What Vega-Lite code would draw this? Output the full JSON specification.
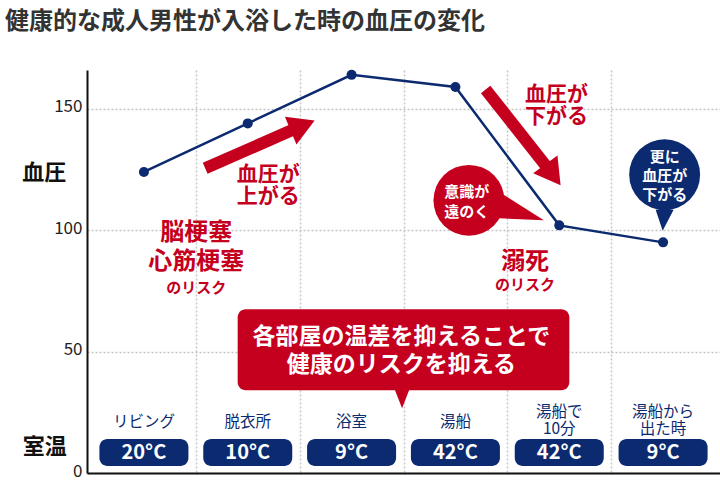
{
  "$schema": "https://vega.github.io/schema/vega-lite/v6.json",
  "width": 633,
  "height": 403,
  "autosize": "none",
  "padding": {"left": 87, "top": 70, "right": 0, "bottom": 7},
  "background": "white",
  "config": {
    "font": "Noto Sans CJK JP",
    "view": {"stroke": null}
  },
  "title": {
    "text": "健康的な成人男性が入浴した時の血圧の変化",
    "anchor": "start",
    "frame": "group",
    "dx": -82,
    "offset": 36,
    "fontSize": 24,
    "fontWeight": "bold",
    "color": "#333333"
  },
  "data": {
    "values": [
      {"step": 1, "room": "リビング", "temp": "20°C", "bp": 124},
      {"step": 2, "room": "脱衣所", "temp": "10°C", "bp": 144},
      {"step": 3, "room": "浴室", "temp": "9°C", "bp": 164},
      {"step": 4, "room": "湯船", "temp": "42°C", "bp": 159},
      {"step": 5, "room": "湯船で\n10分", "temp": "42°C", "bp": 102},
      {"step": 6, "room": "湯船から\n出た時", "temp": "9°C", "bp": 95}
    ]
  },
  "layer": [
    {
      "mark": {"type": "bar", "width": 89, "cornerRadius": 8, "color": "#0b2a6f"},
      "encoding": {
        "x": {
          "field": "step", "type": "quantitative",
          "scale": {"domain": [0.5, 6.5], "nice": false, "zero": false},
          "axis": {
            "values": [1.5, 2.5, 3.5, 4.5, 5.5],
            "grid": true, "gridColor": "#c4c4c4", "gridDash": [2, 2], "gridWidth": 1.5,
            "labels": false, "ticks": false, "title": null,
            "domainColor": "#111111", "domainWidth": 2
          }
        },
        "y": {
          "datum": 14, "type": "quantitative",
          "scale": {"domain": [0, 166], "nice": false},
          "axis": {
            "values": [0, 50, 100, 150],
            "grid": true, "gridColor": "#c4c4c4", "gridDash": [2, 2], "gridWidth": 1.5,
            "ticks": false, "title": null,
            "labelFontSize": 17, "labelColor": "#222222", "labelPadding": 5, "labelOffset": -2,
            "domainColor": "#111111", "domainWidth": 2
          }
        },
        "y2": {"datum": 2.9}
      }
    },
    {
      "mark": {"type": "text", "color": "white", "fontSize": 20, "fontWeight": "bold", "baseline": "middle"},
      "encoding": {
        "x": {"field": "step", "type": "quantitative"},
        "y": {"datum": 8.2, "type": "quantitative"},
        "text": {"field": "temp"}
      }
    },
    {
      "transform": [{"filter": "indexof(datum.room, '\\n') < 0"}],
      "mark": {"type": "text", "color": "#0b2a6f", "fontSize": 15.5, "baseline": "middle"},
      "encoding": {
        "x": {"field": "step", "type": "quantitative"},
        "y": {"datum": 21.2, "type": "quantitative"},
        "text": {"field": "room"}
      }
    },
    {
      "transform": [{"filter": "indexof(datum.room, '\\n') >= 0"}],
      "mark": {"type": "text", "color": "#0b2a6f", "fontSize": 15.5, "baseline": "middle", "lineBreak": "\n", "lineHeight": 17},
      "encoding": {
        "x": {"field": "step", "type": "quantitative"},
        "y": {"datum": 25.1, "type": "quantitative"},
        "text": {"field": "room"}
      }
    },
    {
      "data": {"values": [{}]},
      "mark": {"type": "text", "text": "血圧", "fontSize": 22, "fontWeight": "bold", "color": "#111111", "baseline": "middle", "clip": false},
      "encoding": {
        "x": {"datum": 0.04, "type": "quantitative"},
        "y": {"datum": 123.4, "type": "quantitative"}
      }
    },
    {
      "data": {"values": [{}]},
      "mark": {"type": "text", "text": "室温", "fontSize": 22, "fontWeight": "bold", "color": "#111111", "baseline": "middle", "clip": false},
      "encoding": {
        "x": {"datum": 0.045, "type": "quantitative"},
        "y": {"datum": 10.7, "type": "quantitative"}
      }
    },
    {
      "data": {"values": [{}]},
      "mark": {"type": "rule", "color": "#c5001f", "strokeWidth": 12, "strokeCap": "butt"},
      "encoding": {
        "x": {"datum": 1.59, "type": "quantitative"},
        "y": {"datum": 125.5, "type": "quantitative"},
        "x2": {"datum": 2.511},
        "y2": {"datum": 142.8}
      }
    },
    {
      "data": {"values": [{}]},
      "mark": {"type": "point", "shape": "M0,-1L1,0.73L-1,0.73Z", "size": 900, "filled": true, "opacity": 1, "color": "#c5001f", "angle": 67.4},
      "encoding": {
        "x": {"datum": 2.511, "type": "quantitative"},
        "y": {"datum": 142.8, "type": "quantitative"}
      }
    },
    {
      "data": {"values": [{}]},
      "mark": {"type": "rule", "color": "#c5001f", "strokeWidth": 12, "strokeCap": "butt"},
      "encoding": {
        "x": {"datum": 4.291, "type": "quantitative"},
        "y": {"datum": 158.0, "type": "quantitative"},
        "x2": {"datum": 4.928},
        "y2": {"datum": 123.5}
      }
    },
    {
      "data": {"values": [{}]},
      "mark": {"type": "point", "shape": "M0,-1L1,0.73L-1,0.73Z", "size": 900, "filled": true, "opacity": 1, "color": "#c5001f", "angle": 144},
      "encoding": {
        "x": {"datum": 4.928, "type": "quantitative"},
        "y": {"datum": 123.5, "type": "quantitative"}
      }
    },
    {
      "data": {"values": [{}]},
      "mark": {"type": "point", "shape": "M3.4,-0.6L7.5,2L3,1.8Z", "size": 400, "filled": true, "opacity": 1, "color": "#c5001f"},
      "encoding": {
        "x": {"datum": 4.13, "type": "quantitative"},
        "y": {"datum": 112.3, "type": "quantitative"}
      }
    },
    {
      "data": {"values": [{}]},
      "mark": {"type": "point", "shape": "circle", "size": 5027, "filled": true, "opacity": 1, "color": "#c5001f"},
      "encoding": {
        "x": {"datum": 4.13, "type": "quantitative"},
        "y": {"datum": 112.3, "type": "quantitative"}
      }
    },
    {
      "data": {"values": [{}]},
      "mark": {"type": "point", "shape": "M-0.9,3.5L0.9,3.5L-0.2,5.6Z", "size": 400, "filled": true, "opacity": 1, "color": "#0b2a6f"},
      "encoding": {
        "x": {"datum": 6.015, "type": "quantitative"},
        "y": {"datum": 122.9, "type": "quantitative"}
      }
    },
    {
      "data": {"values": [{}]},
      "mark": {"type": "point", "shape": "circle", "size": 5027, "filled": true, "opacity": 1, "color": "#0b2a6f"},
      "encoding": {
        "x": {"datum": 6.015, "type": "quantitative"},
        "y": {"datum": 122.9, "type": "quantitative"}
      }
    },
    {
      "data": {"values": [{}]},
      "mark": {"type": "rect", "cornerRadius": 8, "color": "#c5001f"},
      "encoding": {
        "x": {"datum": 1.903, "type": "quantitative"},
        "x2": {"datum": 5.097},
        "y": {"datum": 67.5, "type": "quantitative"},
        "y2": {"datum": 34.1}
      }
    },
    {
      "data": {"values": [{}]},
      "mark": {"type": "point", "shape": "M-0.9,-0.5L0.9,-0.5L0,1.8Z", "size": 400, "filled": true, "opacity": 1, "color": "#c5001f"},
      "encoding": {
        "x": {"datum": 3.486, "type": "quantitative"},
        "y": {"datum": 34.1, "type": "quantitative"}
      }
    },
    {
      "data": {"values": [{}]},
      "mark": {"type": "text", "text": "各部屋の温差を抑えることで\n健康のリスクを抑える", "lineBreak": "\n", "lineHeight": 28, "fontSize": 23, "fontWeight": "bold", "color": "white", "baseline": "middle"},
      "encoding": {
        "x": {"datum": 3.48, "type": "quantitative"},
        "y": {"datum": 55.9, "type": "quantitative"}
      }
    },
    {
      "data": {"values": [{}]},
      "mark": {"type": "text", "text": "脳梗塞\n心筋梗塞", "lineBreak": "\n", "lineHeight": 29, "fontSize": 24, "fontWeight": "bold", "color": "#c5001f", "baseline": "middle"},
      "encoding": {
        "x": {"datum": 1.505, "type": "quantitative"},
        "y": {"datum": 98.7, "type": "quantitative"}
      }
    },
    {
      "data": {"values": [{}]},
      "mark": {"type": "text", "text": "のリスク", "fontSize": 15, "fontWeight": "bold", "color": "#c5001f", "baseline": "middle"},
      "encoding": {
        "x": {"datum": 1.505, "type": "quantitative"},
        "y": {"datum": 76.1, "type": "quantitative"}
      }
    },
    {
      "data": {"values": [{}]},
      "mark": {"type": "text", "text": "溺死", "fontSize": 24, "fontWeight": "bold", "color": "#c5001f", "baseline": "middle"},
      "encoding": {
        "x": {"datum": 4.671, "type": "quantitative"},
        "y": {"datum": 86.8, "type": "quantitative"}
      }
    },
    {
      "data": {"values": [{}]},
      "mark": {"type": "text", "text": "のリスク", "fontSize": 15, "fontWeight": "bold", "color": "#c5001f", "baseline": "middle"},
      "encoding": {
        "x": {"datum": 4.671, "type": "quantitative"},
        "y": {"datum": 77.3, "type": "quantitative"}
      }
    },
    {
      "data": {"values": [{}]},
      "mark": {"type": "text", "text": "血圧が\n上がる", "lineBreak": "\n", "lineHeight": 22, "fontSize": 21, "fontWeight": "bold", "color": "#c5001f", "baseline": "middle"},
      "encoding": {
        "x": {"datum": 2.197, "type": "quantitative"},
        "y": {"datum": 122.6, "type": "quantitative"}
      }
    },
    {
      "data": {"values": [{}]},
      "mark": {"type": "text", "text": "血圧が\n下がる", "lineBreak": "\n", "lineHeight": 22, "fontSize": 21, "fontWeight": "bold", "color": "#c5001f", "baseline": "middle"},
      "encoding": {
        "x": {"datum": 4.974, "type": "quantitative"},
        "y": {"datum": 155.5, "type": "quantitative"}
      }
    },
    {
      "data": {"values": [{}]},
      "mark": {"type": "text", "text": "意識が\n遠のく", "lineBreak": "\n", "lineHeight": 20, "fontSize": 15, "fontWeight": "bold", "color": "white", "baseline": "middle"},
      "encoding": {
        "x": {"datum": 4.11, "type": "quantitative"},
        "y": {"datum": 115.7, "type": "quantitative"}
      }
    },
    {
      "data": {"values": [{}]},
      "mark": {"type": "text", "text": "更に\n血圧が\n下がる", "lineBreak": "\n", "lineHeight": 19, "fontSize": 15, "fontWeight": "bold", "color": "white", "baseline": "middle"},
      "encoding": {
        "x": {"datum": 6.015, "type": "quantitative"},
        "y": {"datum": 130.0, "type": "quantitative"}
      }
    },
    {
      "mark": {"type": "line", "color": "#0b2a6f", "strokeWidth": 2.5},
      "encoding": {
        "x": {"field": "step", "type": "quantitative"},
        "y": {"field": "bp", "type": "quantitative"}
      }
    },
    {
      "mark": {"type": "circle", "color": "#0b2a6f", "size": 100, "opacity": 1},
      "encoding": {
        "x": {"field": "step", "type": "quantitative"},
        "y": {"field": "bp", "type": "quantitative"}
      }
    }
  ]
}
